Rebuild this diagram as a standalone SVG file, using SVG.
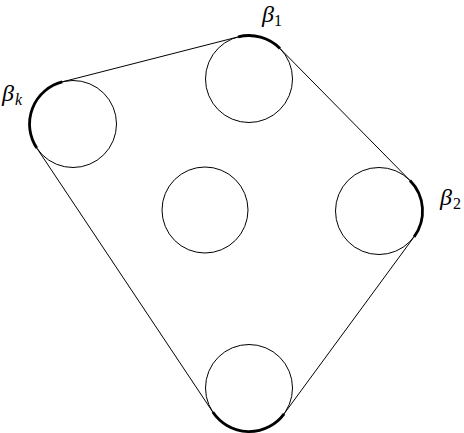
<svg xmlns="http://www.w3.org/2000/svg" width="464" height="433" viewBox="0 0 464 433">
<style>
.c{fill:none;stroke:#000;stroke-width:1}
.e{fill:none;stroke:#000;stroke-width:1}
.a{fill:none;stroke:#000;stroke-width:2.8;stroke-linecap:butt}
.b{font-family:"Liberation Serif",serif;font-style:italic;font-size:24px;fill:#000}
.s{font-family:"Liberation Serif",serif;font-size:16px;fill:#000}
.si{font-family:"Liberation Serif",serif;font-style:italic;font-size:16px;fill:#000}
</style>
<rect width="464" height="433" fill="#fff"/>
<g id="connectors">
<line class="e" x1="62.2" y1="81.9" x2="238.2" y2="36.9"/>
<line class="e" x1="280.0" y1="48.5" x2="410.0" y2="180.5"/>
<line class="e" x1="414.1" y1="236.8" x2="284.1" y2="413.8"/>
<line class="e" x1="212.8" y1="412.1" x2="36.8" y2="148.1"/>
</g>
<g id="node-top">
<circle class="c" cx="249" cy="79" r="43.5"/>
<path class="a" d="M238.2,36.9 A43.5,43.5 0 0 1 280.0,48.5"/>
<text class="b" x="262" y="22">β</text><text class="s" x="274" y="26">1</text>
</g>
<g id="node-left">
<circle class="c" cx="73" cy="124" r="43.5"/>
<path class="a" d="M36.8,148.1 A43.5,43.5 0 0 1 62.2,81.9"/>
<text class="b" x="2" y="101">β</text><text class="si" x="15" y="105">k</text>
</g>
<g id="node-center">
<circle class="c" cx="205" cy="210" r="43"/>
</g>
<g id="node-right">
<circle class="c" cx="379" cy="211" r="43.5"/>
<path class="a" d="M410.0,180.5 A43.5,43.5 0 0 1 414.1,236.8"/>
<text class="b" x="440" y="205">β</text><text class="s" x="453" y="209">2</text>
</g>
<g id="node-bottom">
<circle class="c" cx="249" cy="388" r="43.5"/>
<path class="a" d="M284.1,413.8 A43.5,43.5 0 0 1 212.8,412.1"/>
</g>
</svg>
